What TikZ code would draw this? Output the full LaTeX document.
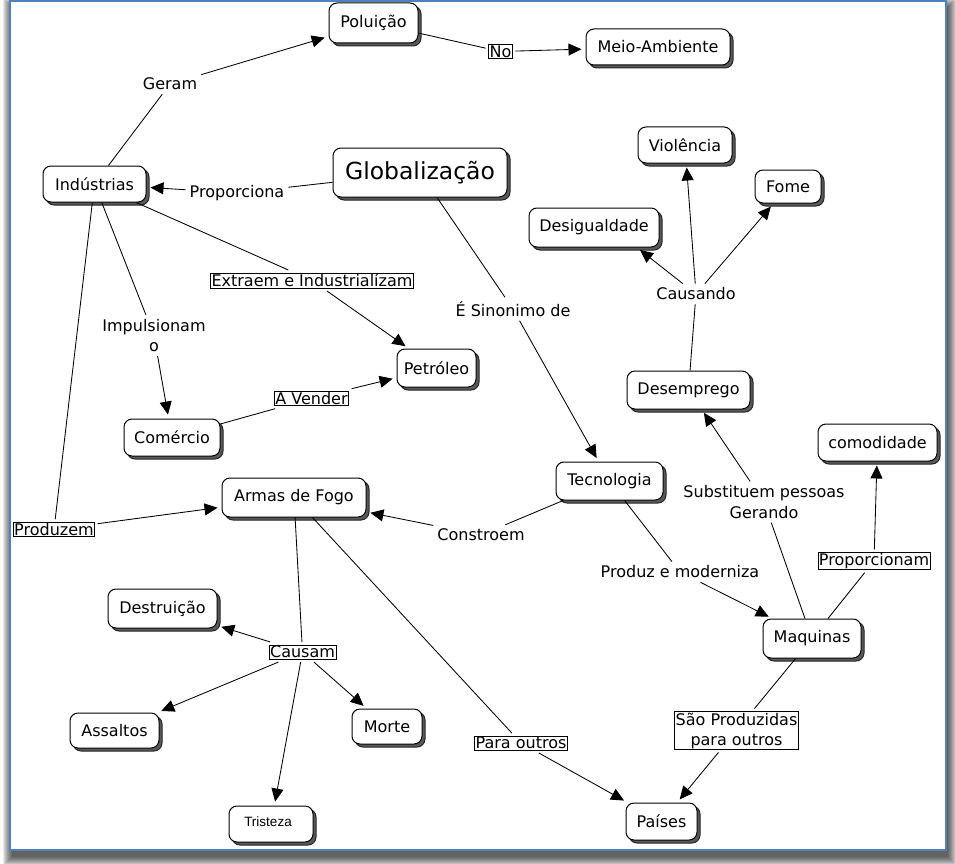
\documentclass[tikz,border=0pt]{standalone}
\usepackage{fontspec}
\setmainfont{DejaVu Sans}
\newfontfamily\arialfont{Liberation Sans}
\usetikzlibrary{arrows.meta,shadows}
\definecolor{frameblue}{RGB}{79,129,189}
\begin{document}
\begin{tikzpicture}[x=1pt,y=-1pt,
  concept/.style={draw, line width=1pt, rounded corners=8pt, fill=white, inner sep=0pt,
    font=\fontsize{16}{19}\selectfont,
    copy shadow={shadow xshift=3pt, shadow yshift=-3pt, fill=black!65, draw=black!85}},
  lab/.style={inner sep=4pt, font=\fontsize{16}{20.5}\selectfont, align=center},
  blab/.style={draw, line width=0.8pt, inner sep=1pt, outer sep=3pt, fill=white,
    font=\fontsize{16}{20}\selectfont, align=center},
  link/.style={line width=0.85pt},
  arr/.style={line width=0.85pt, -{Triangle[length=13pt,width=12pt]}, shorten >=4pt}
]
\useasboundingbox (0,0) rectangle (955,864);
% frame shadow
\foreach \r in {9,8,...,0} {
  \fill[black, opacity=0.09] (12-\r,7-\r) rectangle (948+\r,857+\r);
}
\fill[white] (10,1) rectangle (946,850);
\draw[frameblue, line width=2.5pt] (10,1) rectangle (946,850);

% concepts
\node[concept, minimum width=89pt, minimum height=40pt] (polu) at (373.5,23) {Poluição};
\node[concept, minimum width=144pt, minimum height=36pt] (meio) at (658,47) {Meio-Ambiente};
\node[concept, minimum width=103pt, minimum height=36pt] (indu) at (94.5,184) {Indústrias};
\node[concept, minimum width=174pt, minimum height=49pt, font=\fontsize{23.5}{26}\selectfont] (glob) at (420,172.5) {Globalização};
\node[concept, minimum width=94pt, minimum height=36pt] (viol) at (685,145) {Violência};
\node[concept, minimum width=66pt, minimum height=33pt] (fome) at (788,186.5) {Fome};
\node[concept, minimum width=130pt, minimum height=39pt] (desig) at (594,227.5) {Desigualdade};
\node[concept, minimum width=79pt, minimum height=38pt] (petr) at (436.5,368) {Petróleo};
\node[concept, minimum width=96pt, minimum height=37pt] (come) at (172,437.5) {Comércio};
\node[concept, minimum width=144pt, minimum height=39pt] (armas) at (294,497.5) {Armas de Fogo};
\node[concept, minimum width=123pt, minimum height=38pt] (desem) at (688.5,390) {Desemprego};
\node[concept, minimum width=119pt, minimum height=37pt] (comod) at (877.5,442.5) {comodidade};
\node[concept, minimum width=107pt, minimum height=38pt] (tecn) at (609.5,481) {Tecnologia};
\node[concept, minimum width=98pt, minimum height=39pt] (maq) at (812,638.5) {Maquinas};
\node[concept, minimum width=71pt, minimum height=37pt] (pais) at (661.5,821.5) {Países};
\node[concept, minimum width=109pt, minimum height=39pt] (destr) at (162.5,608.5) {Destruição};
\node[concept, minimum width=89pt, minimum height=35pt] (assal) at (114.5,730.5) {Assaltos};
\node[concept, minimum width=70pt, minimum height=35pt] (morte) at (387,726.5) {Morte};
\node[concept, minimum width=84pt, minimum height=36pt, font=\arialfont\fontsize{13.5}{15}\selectfont] (trist) at (271,824) {\hspace*{-6pt}\raisebox{4pt}{Tristeza}};

% linking phrases
\node[lab] (geram) at (170,84) {Geram};
\node[blab] (no) at (500.5,51.5) {No};
\node[lab] (propo) at (237,193) {Proporciona};
\node[blab] (extr) at (312,280.5) {Extraem e Industrialízam};
\node[lab] (sino) at (513,309) {É Sinonimo de};
\node[lab] (impu) at (154,335.5) {Impulsionam\\o};
\node[blab] (vend) at (311.5,398.5) {A Vender};
\node[blab] (prod) at (54,529.5) {Produzem};
\node[lab] (cons) at (481,535) {Constroem};
\node[lab] (caus) at (696,294) {Causando};
\node[lab] (subs) at (764,502) {Substituem pessoas\\Gerando};
\node[lab] (pmod) at (680,572) {Produz e moderniza};
\node[blab] (prop2) at (874,561) {Proporcionam};
\node[blab] (causam) at (302.5,652) {Causam};
\node[blab] (paraout) at (521,743) {Para outros};
\node[blab] (sao) at (736.5,730.5) {São Produzidas\\para outros};

% connectors
\draw[link] (indu) -- (geram);
\draw[arr] (geram) -- (polu);
\draw[link] (polu) -- (no);
\draw[arr] (no) -- (meio);
\draw[link] (glob) -- (propo);
\draw[arr] (propo) -- (indu);
\draw[link] (indu) -- (extr);
\draw[arr] (extr) -- (petr);
\draw[link] (glob) -- (sino);
\draw[arr] (sino) -- (tecn);
\draw[link] (indu) -- (impu);
\draw[arr] (impu) -- (come);
\draw[link] (come) -- (vend);
\draw[arr] (vend) -- (petr);
\draw[link] (indu) -- (prod);
\draw[arr] (prod) -- (armas);
\draw[link] (tecn) -- (cons);
\draw[arr] (cons) -- (armas);
\draw[link] (armas) -- (causam);
\draw[arr] (causam) -- (destr);
\draw[arr] (causam) -- (assal);
\draw[arr] (causam) -- (morte);
\draw[arr] (causam) -- (trist);
\draw[link] (armas) -- (paraout);
\draw[arr] (paraout) -- (pais);
\draw[link] (tecn) -- (pmod);
\draw[arr] (pmod) -- (maq);
\draw[link] (maq) -- (subs);
\draw[arr] (subs) -- (desem);
\draw[link] (maq) -- (prop2);
\draw[arr] (prop2) -- (comod);
\draw[link] (maq) -- (sao);
\draw[arr] (sao) -- (pais);
\draw[link] (desem) -- (caus);
\draw[arr] (caus) -- (viol);
\draw[arr] (caus) -- (fome);
\draw[arr] (caus) -- (desig.-25);
\end{tikzpicture}
\end{document}
